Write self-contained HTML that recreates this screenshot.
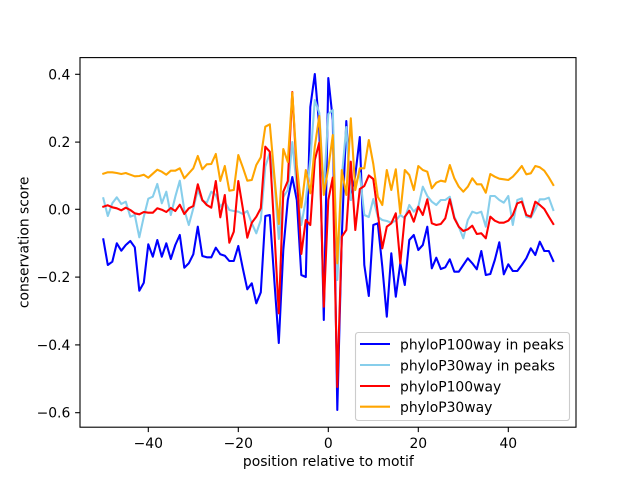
<!DOCTYPE html>
<html><head><meta charset="utf-8"><style>
html,body{margin:0;padding:0;background:#fff;}
svg{display:block;}
text{font-family:"DejaVu Sans","Liberation Sans",sans-serif;font-size:13.9px;fill:#000;}
</style></head><body>
<svg width="640" height="480" viewBox="0 0 640 480" xmlns="http://www.w3.org/2000/svg">
<rect x="0" y="0" width="640" height="480" fill="#fff"/>
<defs><clipPath id="ax"><rect x="80" y="57.6" width="496" height="369.6"/></clipPath></defs>
<g clip-path="url(#ax)" fill="none" stroke-linejoin="round" stroke-linecap="square">
<g transform="translate(328.3 0) scale(4.5 1)">
<polyline vector-effect="non-scaling-stroke" stroke="#0000ff" stroke-width="2.08" points="-50,239.3 -49,265 -48,261.7 -47,243.3 -46,250.7 -45,245 -44,241 -43,247.3 -42,290.7 -41,282.7 -40,244.3 -39,256.7 -38,240 -37,256.7 -36,243.3 -35,259 -34,245 -33,235 -32,267.7 -31,263.3 -30,254.3 -29,226.7 -28,256 -27,257.3 -26,257.3 -25,247.7 -24,254.3 -23,255.7 -22,261 -21,261 -20,246 -19,268.3 -18,289.3 -17,283.3 -16,303.3 -15,292.3 -14,216 -13,215 -12,280 -11,343 -10,250 -9,200 -8,177 -7,200 -6,275 -5,277 -4,107 -3,74 -2,127 -1,320 0,78 1,120 2,410 3,237 4,121 5,200 6,175 7,137 8,265 9,296 10,225 11,223.3 12,266.7 13,316.7 14,253.3 15,296.7 16,263.3 17,285 18,240 19,235 20,250 21,245 22,226.7 23,268.3 24,257.7 25,269 26,267.3 27,259.3 28,271.7 29,271.7 30,265 31,258.3 32,263.3 33,269.3 34,251 35,275 36,274 37,260 38,242.3 39,274.3 40,264.3 41,271 42,271 43,265 44,258.3 45,248.3 46,255 47,241.7 48,251 49,251 50,261"/>
<polyline vector-effect="non-scaling-stroke" stroke="#87ceeb" stroke-width="2.08" points="-50,198.3 -49,216 -48,203.3 -47,197.3 -46,204 -45,201.7 -44,216.7 -43,215 -42,237.3 -41,216.7 -40,198.7 -39,196.7 -38,184 -37,203.3 -36,191.7 -35,215 -34,196.7 -33,180.7 -32,210 -31,225 -30,208.3 -29,190 -28,200.7 -27,202.7 -26,191.7 -25,195 -24,206.7 -23,201.7 -22,210 -21,211 -20,211.7 -19,214 -18,211 -17,223.3 -16,233.3 -15,220 -14,166.7 -13,152.7 -12,180 -11,239 -10,197 -9,190 -8,142 -7,187 -6,225 -5,200 -4,160 -3,100 -2,113 -1,190 0,114 1,110 2,280 3,177 4,127 5,200 6,185 7,173 8,215 9,217 10,199 11,216.7 12,220 13,221 14,222.7 15,220.7 16,215 17,218.3 18,205 19,211.7 20,206.7 21,186.7 22,196 23,201.7 24,205 25,200 26,200 27,196.7 28,216.7 29,226.7 30,238.3 31,220 32,211.7 33,213.3 34,211.7 35,226.7 36,196 37,196 38,200 39,202.7 40,196 41,225 42,200 43,198.3 44,216.7 45,217.7 46,209.3 47,199.3 48,199.3 49,197.7 50,210"/>
<polyline vector-effect="non-scaling-stroke" stroke="#ff0000" stroke-width="2.08" points="-50,206.7 -49,205.3 -48,207.3 -47,208.3 -46,210.3 -45,207.7 -44,210 -43,213.3 -42,214.3 -41,212 -40,212.7 -39,212.7 -38,208.3 -37,209.7 -36,212 -35,208 -34,211 -33,204.7 -32,214 -31,208.3 -30,206 -29,184.3 -28,200 -27,205 -26,207.7 -25,181 -24,217.3 -23,195 -22,242.7 -21,231.7 -20,181 -19,208.3 -18,237.7 -17,222.7 -16,216.7 -15,208.3 -14,146.7 -13,151.7 -12,230 -11,313.3 -10,191.7 -9,181 -8,92 -7,173.3 -6,254 -5,220 -4,225 -3,160 -2,142.5 -1,306.7 0,200 1,177.5 2,387 3,236.7 4,230 5,161.7 6,230 7,189 8,186 9,175.5 10,179 11,213.3 12,248.3 13,226.7 14,223.3 15,213.3 16,263.3 17,216.7 18,210.7 19,221.7 20,206.7 21,215 22,199.3 23,223.3 24,225 25,224 26,218.3 27,199.3 28,218.3 29,226.7 30,231 31,229.3 32,225.7 33,234 34,233.3 35,238.3 36,216.7 37,220.7 38,222.7 39,222.7 40,220.7 41,215 42,203.3 43,201.7 44,215 45,216.7 46,201.7 47,205 48,209 49,216.7 50,224"/>
<polyline vector-effect="non-scaling-stroke" stroke="#ffa500" stroke-width="2.08" points="-50,173.7 -49,172.3 -48,172.3 -47,173 -46,174 -45,173 -44,174.7 -43,176.3 -42,176 -41,174.7 -40,177.7 -39,173.7 -38,169.7 -37,171.7 -36,174.7 -35,170.7 -34,170.7 -33,168.3 -32,178.3 -31,173.3 -30,168.3 -29,156 -28,169.3 -27,164.3 -26,164 -25,154 -24,181 -23,166 -22,190.7 -21,190 -20,155 -19,167.3 -18,180.7 -17,180 -16,165 -15,157.3 -14,126.7 -13,124.3 -12,175 -11,224 -10,149 -9,162 -8,92.7 -7,165 -6,207.5 -5,170 -4,193.3 -3,146.7 -2,116 -1,195 0,168 1,135 2,263.3 3,170 4,195 5,118.3 6,190 7,168.3 8,168.3 9,140 10,164 11,196.7 12,205 13,170 14,190 15,169.3 16,213.3 17,170 18,175 19,190 20,166 21,170 22,171.7 23,188.3 24,182.7 25,180.7 26,181.7 27,165 28,178.3 29,186.7 30,191.7 31,186.7 32,178.3 33,184.3 34,184.3 35,192.7 36,174 37,176.7 38,178.7 39,179.3 40,180 41,176.7 42,171.7 43,166 44,174.3 45,173.3 46,166 47,167.3 48,170.7 49,177.3 50,185"/>
</g>
</g>
<!-- spines -->
<rect x="80" y="57.6" width="496" height="369.6" fill="none" stroke="#000" stroke-width="1.1"/>
<!-- x ticks -->
<g stroke="#000" stroke-width="1.1">
<line x1="148.3" y1="427.2" x2="148.3" y2="432.1"/>
<line x1="238.3" y1="427.2" x2="238.3" y2="432.1"/>
<line x1="328.3" y1="427.2" x2="328.3" y2="432.1"/>
<line x1="418.3" y1="427.2" x2="418.3" y2="432.1"/>
<line x1="508.3" y1="427.2" x2="508.3" y2="432.1"/>
<line x1="75.1" y1="74.3" x2="80" y2="74.3"/>
<line x1="75.1" y1="142.1" x2="80" y2="142.1"/>
<line x1="75.1" y1="209.3" x2="80" y2="209.3"/>
<line x1="75.1" y1="277.1" x2="80" y2="277.1"/>
<line x1="75.1" y1="344.9" x2="80" y2="344.9"/>
<line x1="75.1" y1="412.7" x2="80" y2="412.7"/>
</g>
<g text-anchor="middle">
<text x="148.3" y="447.8">−40</text>
<text x="238.3" y="447.8">−20</text>
<text x="328.3" y="447.8">0</text>
<text x="418.3" y="447.8">20</text>
<text x="508.3" y="447.8">40</text>
</g>
<g text-anchor="end">
<text x="70.3" y="79.3">0.4</text>
<text x="70.3" y="147.1">0.2</text>
<text x="70.3" y="214.3">0.0</text>
<text x="70.3" y="282.1">−0.2</text>
<text x="70.3" y="349.9">−0.4</text>
<text x="70.3" y="417.7">−0.6</text>
</g>
<text x="328.3" y="466" text-anchor="middle">position relative to motif</text>
<text transform="translate(28.5 242.4) rotate(-90)" text-anchor="middle">conservation score</text>
<!-- legend -->
<rect x="355.5" y="332.5" width="214" height="88" rx="2.8" ry="2.8" fill="#fff" fill-opacity="0.8" stroke="#cccccc" stroke-width="1.1"/>
<g stroke-width="2.08">
<line x1="360" y1="344" x2="390" y2="344" stroke="#0000ff"/>
<line x1="360" y1="365" x2="390" y2="365" stroke="#87ceeb"/>
<line x1="360" y1="386" x2="390" y2="386" stroke="#ff0000"/>
<line x1="360" y1="406.7" x2="390" y2="406.7" stroke="#ffa500"/>
</g>
<text x="400" y="349.5">phyloP100way in peaks</text>
<text x="400" y="370.5">phyloP30way in peaks</text>
<text x="400" y="391.5">phyloP100way</text>
<text x="400" y="412">phyloP30way</text>
</svg>
</body></html>
